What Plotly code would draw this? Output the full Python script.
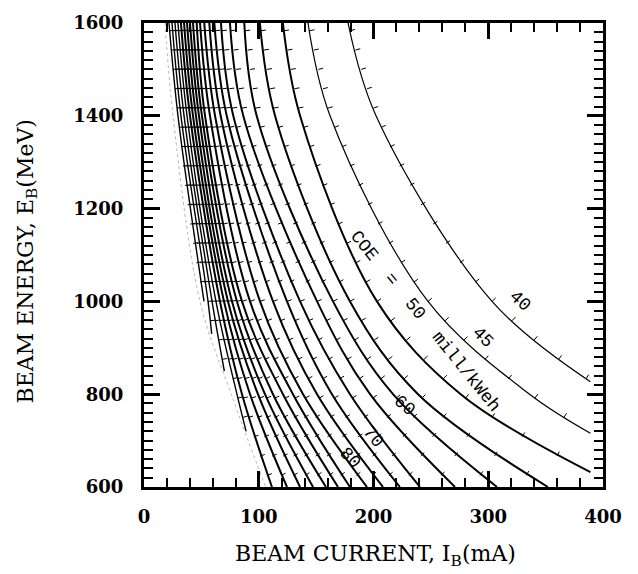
import numpy as np
import plotly.graph_objects as go

# ---------------- data ----------------
coe_levels = [40, 45, 50, 55, 60, 65, 70, 75, 80, 85, 90, 95,
              100, 105, 110, 115, 120, 125, 130, 135, 140]

# beam energy (MeV) of the points read on each contour
curve_energy = [
    [1600, 1400, 1000, 827],
    [1600, 1400, 1000, 800, 716],
    [1600, 1400, 1000, 800, 632],
    [1600, 1400, 1000, 800, 600],
    [1600, 1400, 1000, 800, 600],
    [1600, 1400, 1000, 800, 600],
    [1600, 1400, 1000, 800, 600],
    [1600, 1400, 1000, 800, 600],
    [1600, 1400, 1000, 800, 600],
    [1600, 1400, 1000, 800, 600],
    [1600, 1400, 1000, 800, 600],
    [1600, 1400, 1000, 800, 600],
    [1600, 1400, 1000, 800, 600],
    [1600, 1400, 1000, 800, 600],
    [1600, 1400, 1000, 800, 600],
    [1600, 1400, 1000, 800, 600],
    [1600, 1400, 1000, 800, 600],
    [1600, 1400, 1000, 800, 720],
    [1600, 1400, 1000, 850],
    [1600, 1400, 1000, 930],
    [1600, 1400, 1000],
]
# beam current (mA) of the same points
curve_current = [
    [177.8, 202.2, 303.3, 389.0],
    [142.9, 162.1, 247.5, 336.0, 389.0],
    [121.0, 136.0, 203.0, 276.0, 389.0],
    [101.0, 114.2, 179.5, 238.8, 352.0],
    [87.4, 98.2, 164.7, 217.0, 307.6],
    [74.9, 86.5, 150.8, 197.0, 271.0],
    [67.1, 77.8, 136.0, 179.5, 240.5],
    [61.3, 72.1, 124.6, 163.8, 223.0],
    [56.9, 66.8, 112.4, 150.8, 208.3],
    [52.5, 61.9, 101.1, 138.6, 194.3],
    [48.8, 57.5, 92.4, 129.8, 179.5],
    [45.9, 53.2, 85.4, 121.1, 169.1],
    [42.7, 50.5, 81.0, 112.4, 158.6],
    [40.1, 47.9, 76.7, 105.4, 147.3],
    [37.5, 45.3, 73.2, 99.3, 136.0],
    [34.9, 42.7, 69.7, 92.4, 124.6],
    [32.2, 40.1, 66.2, 85.4, 111.5],
    [29.6, 37.5, 62.7, 81.0, 89.0],
    [27.0, 34.9, 59.3, 70.0],
    [24.4, 32.2, 55.8, 59.0],
    [21.8, 29.6, 52.3],
]

boundary_energy = [1600, 1400, 1000, 800, 600]
boundary_current = [18.3, 25.3, 48.8, 76.0, 106.0]

# energies at which the contour program drew its small hachure ticks
hachure_energy = [1583.3 - 41.667 * k for k in range(24)]

# contour labels: text, current, energy, angle
label_text = ["40", "45", "COE  =  50  mill/kWeh", "60", "70", "80"]
label_current = [327.7, 295.0, 244.9, 227.5, 199.6, 179.5]
label_energy = [1000.0, 923.0, 957.6, 775.6, 707.0, 662.0]
label_angle = [42, 45, 51, 40, 50, 46]

x_tickvals = [0, 100, 200, 300, 400]
y_tickvals = [600, 800, 1000, 1200, 1400, 1600]

# ---------------- figure ----------------
W, H = 638, 574
ML, MR, MT, MB = 144, 35, 20, 87
PW, PH = W - ML - MR, H - MT - MB
sx = PW / 400.0    # px per mA
sy = PH / 1000.0   # px per MeV

fig = go.Figure()

# faint boundary of the computed region
fig.add_trace(go.Scatter(
    x=boundary_current, y=boundary_energy, mode="lines",
    line=dict(color="rgba(120,120,120,0.55)", width=1, dash="dot", shape="spline"),
    hoverinfo="skip", showlegend=False))


def width_for(level):
    if level <= 45:
        return 1.2
    if level <= 120:
        return 2.0
    return 1.4


for lev, Es, Is in zip(coe_levels, curve_energy, curve_current):
    fig.add_trace(go.Scatter(
        x=Is, y=Es, mode="lines",
        line=dict(color="black", width=width_for(lev), shape="spline", smoothing=1.0),
        name=f"COE {lev}", hoverinfo="skip", showlegend=False))

# hachure ticks on each contour (pointing towards lower COE)
TICK_PX = 5.0
hx, hy = [], []
for Es, Is in zip(curve_energy, curve_current):
    Ea = np.array(Es, float)
    Ia = np.array(Is, float)
    o = np.argsort(Ea)
    lE = np.log(Ea[o])
    lI = np.log(Ia[o])
    for e in hachure_energy:
        if e < Ea.min() + 3 or e > Ea.max():
            continue
        le = np.log(e)
        li = np.interp(le, lE, lI)
        j = int(np.clip(np.searchsorted(lE, le), 1, len(lE) - 1))
        slope = (lI[j] - lI[j - 1]) / (lE[j] - lE[j - 1])
        cur = float(np.exp(li))
        dIdE = slope * cur / e
        nx, ny = sy, -dIdE * sx
        nrm = np.hypot(nx, ny)
        nx, ny = nx / nrm, ny / nrm
        hx += [cur, cur + TICK_PX * nx / sx, None]
        hy += [e, e + TICK_PX * ny / sy, None]

fig.add_trace(go.Scatter(
    x=hx, y=hy, mode="lines", line=dict(color="black", width=1),
    hoverinfo="skip", showlegend=False))

for t, xi, yi, a in zip(label_text, label_current, label_energy, label_angle):
    fig.add_annotation(
        x=xi, y=yi, xref="x", yref="y", text=t, showarrow=False,
        textangle=a, font=dict(family="Liberation Mono", size=18, color="black"))

# axis titles
fig.add_annotation(
    x=(375 - ML) / PW, y=(487 - 556) / PH, xref="paper", yref="paper",
    text="BEAM CURRENT, I<sub>B</sub>(mA)", showarrow=False,
    yanchor="middle", xanchor="center",
    font=dict(family="DejaVu Serif", size=22, color="black"))
fig.add_annotation(
    x=(27 - ML) / PW, y=(487 - 260) / PH,
    xref="paper", yref="paper",
    text="BEAM ENERGY, E<sub>B</sub>(MeV)", showarrow=False, textangle=-90,
    xanchor="center", yanchor="middle",
    font=dict(family="DejaVu Serif", size=22, color="black"))

axis_common = dict(
    showline=True, linewidth=3, linecolor="black", mirror="ticks",
    ticks="inside", ticklen=16, tickwidth=2.5, tickcolor="black",
    showgrid=False, zeroline=False,
    tickfont=dict(family="DejaVu Serif", size=18, color="black", weight="bold"),
)

fig.update_xaxes(range=[0, 400], tickvals=x_tickvals,
                 minor=dict(dtick=20, ticks="inside", ticklen=9, tickwidth=2, tickcolor="black"),
                 ticklabelstandoff=11, **axis_common)
fig.update_yaxes(range=[600, 1600], tickvals=y_tickvals,
                 minor=dict(dtick=20, ticks="inside", ticklen=9, tickwidth=2, tickcolor="black"),
                 ticklabelstandoff=14, **axis_common)

fig.update_layout(
    width=W, height=H,
    margin=dict(l=ML, r=MR, t=MT, b=MB, pad=0),
    paper_bgcolor="white", plot_bgcolor="white",
    showlegend=False,
)

fig.write_html("out.html")
